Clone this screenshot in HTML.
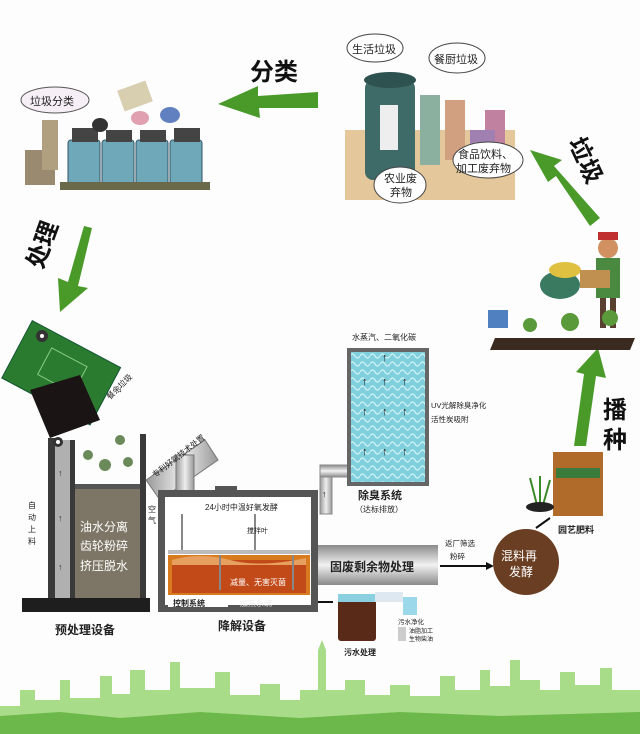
<!DOCTYPE html>
<html><head><meta charset="utf-8"><style>
html,body{margin:0;padding:0;background:#fff}
svg{display:block}
text{font-family:"Liberation Sans","Noto Sans CJK SC",sans-serif}
</style></head><body>
<svg width="640" height="734" viewBox="0 0 640 734" xmlns="http://www.w3.org/2000/svg">
<defs>
<pattern id="wave" width="10" height="8" patternUnits="userSpaceOnUse">
<rect width="10" height="8" fill="#7fd0dc"/>
<path d="M0 4 Q2.5 0 5 4 T10 4" stroke="#c8eef2" stroke-width="1.5" fill="none"/>
</pattern>
<linearGradient id="pipe" x1="0" y1="0" x2="0" y2="1">
<stop offset="0" stop-color="#8a8a8a"/><stop offset="0.5" stop-color="#f2f2f2"/><stop offset="1" stop-color="#8a8a8a"/>
</linearGradient>
<linearGradient id="pipeV" x1="0" y1="0" x2="1" y2="0">
<stop offset="0" stop-color="#999"/><stop offset="0.5" stop-color="#eee"/><stop offset="1" stop-color="#999"/>
</linearGradient>
</defs>
<rect width="640" height="734" fill="#fdfdfd"/>

<!-- green arrows -->
<polygon points="318,92 258,96 258,86 218,104 260,118 259,108 318,108" fill="#4a9a2a"/>
<polygon points="84,226 92,228 78,286 88,288 60,312 58,278 68,282" fill="#4a9a2a"/>
<polygon points="600,218 590,226 556,176 548,182 530,150 562,160 554,166" fill="#4a9a2a"/>
<polygon points="574,446 586,446 596,376 606,378 598,348 576,372 584,374" fill="#4a9a2a"/>

<text x="250" y="80" font-size="24" font-weight="bold" fill="#111">分类</text>
<text transform="translate(42,270) rotate(-70)" font-size="24" font-weight="bold" fill="#111">处理</text>
<text transform="translate(568,142) rotate(65)" font-size="24" font-weight="bold" fill="#111">垃圾</text>
<text x="603" y="418" font-size="24" font-weight="bold" fill="#111">播</text>
<text x="603" y="448" font-size="24" font-weight="bold" fill="#111">种</text>

<!-- top-left sorting illustration -->
<ellipse cx="55" cy="100" rx="34" ry="13" fill="#f6f0f6" stroke="#555"/>
<text x="30" y="105" font-size="11" fill="#222">垃圾分类</text>
<rect x="25" y="150" width="30" height="35" fill="#9a8a70"/>
<rect x="42" y="120" width="16" height="50" fill="#b0a080"/>
<g fill="#6fa8b8" stroke="#356"><rect x="68" y="140" width="32" height="45" rx="3"/><rect x="102" y="140" width="32" height="45" rx="3"/><rect x="136" y="140" width="32" height="45" rx="3"/><rect x="170" y="140" width="32" height="45" rx="3"/></g>
<g fill="#444"><rect x="72" y="128" width="26" height="14"/><rect x="106" y="130" width="26" height="12"/><rect x="140" y="130" width="26" height="12"/><rect x="174" y="128" width="26" height="14"/></g>
<rect x="60" y="182" width="150" height="8" fill="#6a6a4a"/>
<ellipse cx="100" cy="125" rx="8" ry="7" fill="#333"/><ellipse cx="140" cy="118" rx="9" ry="7" fill="#e0a0b0"/><ellipse cx="170" cy="115" rx="10" ry="8" fill="#6080c0"/>
<rect x="120" y="85" width="30" height="22" fill="#d8cfb0" transform="rotate(-20 135 96)"/>

<!-- top-right garbage illustration -->
<rect x="345" y="130" width="170" height="70" fill="#d8b070" opacity="0.7"/>
<rect x="420" y="95" width="20" height="70" fill="#8cb0a0"/><rect x="445" y="100" width="20" height="60" fill="#d0a080"/><rect x="485" y="110" width="20" height="55" fill="#c080a0"/>
<rect x="470" y="130" width="25" height="35" fill="#a080b0"/>
<rect x="365" y="80" width="50" height="100" rx="8" fill="#3e6a68"/>
<ellipse cx="390" cy="80" rx="26" ry="8" fill="#2e5250"/>
<rect x="380" y="105" width="18" height="45" fill="#eee"/>
<ellipse cx="375" cy="48" rx="28" ry="14" fill="#fff" stroke="#444"/>
<text x="352" y="53" font-size="11" fill="#222">生活垃圾</text>
<ellipse cx="457" cy="58" rx="28" ry="15" fill="#fff" stroke="#444"/>
<text x="434" y="63" font-size="11" fill="#222">餐厨垃圾</text>
<ellipse cx="400" cy="185" rx="26" ry="18" fill="#fff" stroke="#444"/>
<text x="384" y="182" font-size="11" fill="#222">农业废</text><text x="390" y="196" font-size="11" fill="#222">弃物</text>
<ellipse cx="488" cy="160" rx="35" ry="18" fill="#fff" stroke="#444"/>
<text x="458" y="158" font-size="11" fill="#222">食品饮料、</text><text x="456" y="172" font-size="11" fill="#222">加工废弃物</text>

<!-- farmer -->
<rect x="596" y="258" width="24" height="40" fill="#4a8a40"/>
<rect x="600" y="298" width="6" height="30" fill="#5a4030"/><rect x="610" y="298" width="6" height="30" fill="#5a4030"/>
<circle cx="608" cy="248" r="10" fill="#d09060"/><rect x="598" y="232" width="20" height="8" fill="#c03030"/>
<ellipse cx="560" cy="285" rx="20" ry="14" fill="#3a7a60"/><ellipse cx="565" cy="270" rx="16" ry="8" fill="#e0c040"/>
<rect x="580" y="270" width="30" height="18" fill="#c09050"/>
<polygon points="495,338 635,338 630,350 490,350" fill="#3a2a20"/>
<g fill="#5a9a3a"><circle cx="500" cy="320" r="8"/><circle cx="530" cy="325" r="7"/><circle cx="570" cy="322" r="9"/><circle cx="610" cy="318" r="8"/></g>
<rect x="488" y="310" width="20" height="18" fill="#5080c0"/>

<!-- green bin -->
<g transform="rotate(28 60 375)">
<rect x="10" y="340" width="100" height="65" fill="#2a7a30" stroke="#153"/>
<rect x="40" y="355" width="40" height="30" fill="none" stroke="#8c8"/>
</g>
<polygon points="30,390 80,375 100,420 50,438" fill="#1a1414"/>
<circle cx="42" cy="336" r="6" fill="#333"/><circle cx="42" cy="336" r="2" fill="#fff"/>
<text x="118" y="392" font-size="9" fill="#222">↓</text>
<text transform="translate(110,400) rotate(-45)" font-size="8" fill="#222">餐余垃圾</text>

<!-- pretreatment -->
<rect x="48" y="438" width="7" height="168" fill="#3a3a3a"/>
<rect x="55" y="440" width="15" height="164" fill="#b0b0b0"/>
<rect x="70" y="440" width="5" height="164" fill="#3a3a3a"/>
<rect x="140" y="434" width="6" height="172" fill="#3a3a3a"/>
<rect x="75" y="484" width="65" height="120" fill="#7d7565"/>
<rect x="75" y="484" width="65" height="5" fill="#555"/>
<circle cx="58" cy="442" r="5" fill="#333"/><circle cx="58" cy="442" r="2" fill="#fff"/>
<g fill="#333" font-size="9"><text x="58" y="476">↑</text><text x="58" y="521">↑</text><text x="58" y="570">↑</text></g>
<text x="80" y="531" font-size="12" fill="#fff">油水分离</text>
<text x="80" y="550" font-size="12" fill="#fff">齿轮粉碎</text>
<text x="80" y="570" font-size="12" fill="#fff">挤压脱水</text>
<g font-size="8" fill="#222"><text x="28" y="508">自</text><text x="28" y="520">动</text><text x="28" y="532">上</text><text x="28" y="544">料</text></g>
<g fill="#6a8a5a"><circle cx="88" cy="455" r="5"/><circle cx="105" cy="465" r="6"/><circle cx="120" cy="440" r="5"/><circle cx="128" cy="462" r="5"/></g>
<rect x="22" y="598" width="128" height="14" fill="#1e1e1e"/>
<text x="55" y="634" font-size="12" font-weight="bold" fill="#222">预处理设备</text>

<!-- slanted pipe -->
<polygon points="146,480 205,440 218,460 160,500" fill="url(#pipeV)" stroke="#777"/>
<rect x="176" y="455" width="18" height="40" fill="url(#pipeV)" stroke="#777"/>
<text transform="translate(155,478) rotate(-38)" font-size="8" fill="#222">专利好氧技术处置</text>

<!-- degradation -->
<rect x="158" y="490" width="160" height="122" fill="#555"/>
<rect x="165" y="497" width="146" height="108" fill="#fff"/>
<rect x="215" y="486" width="22" height="6" fill="#555"/>
<text x="205" y="510" font-size="8" fill="#222">24小时中温好氧发酵</text>
<text x="148" y="512" font-size="8" fill="#222">空</text><text x="148" y="523" font-size="8" fill="#222">气</text>
<rect x="168" y="550" width="142" height="4" fill="#bbb"/>
<rect x="168" y="555" width="142" height="40" fill="#d87a1e"/>
<rect x="172" y="560" width="134" height="33" fill="#c24a18"/>
<path d="M172 560 Q200 552 230 560 T306 558 L306 565 L172 565Z" fill="#e8a060"/>
<g stroke="#888" stroke-width="2"><line x1="182" y1="514" x2="182" y2="550"/><line x1="255" y1="514" x2="255" y2="550"/><line x1="220" y1="555" x2="220" y2="590"/><line x1="293" y1="555" x2="293" y2="590"/></g>
<text x="247" y="533" font-size="7" fill="#222">搅拌叶</text>
<text x="230" y="585" font-size="8" fill="#fff">减量、无害灭菌</text>
<rect x="168" y="597" width="60" height="10" fill="#fff"/>
<text x="173" y="606" font-size="8" font-weight="bold" fill="#222">控制系统</text>
<text x="240" y="606" font-size="8" fill="#eee">加热系统</text>
<text x="218" y="630" font-size="12" font-weight="bold" fill="#222">降解设备</text>

<!-- pipe to deodor -->
<rect x="320" y="472" width="12" height="42" fill="url(#pipeV)" stroke="#888"/>
<rect x="320" y="465" width="32" height="12" fill="url(#pipe)" stroke="#888"/>
<text x="322" y="497" font-size="9" fill="#222">↑</text>

<!-- deodor tower -->
<rect x="347" y="348" width="82" height="138" fill="#666"/>
<rect x="351" y="352" width="74" height="130" fill="url(#wave)"/>
<g fill="#111" font-size="11" font-weight="bold">
<text x="382" y="361">↑</text>
<text x="362" y="385">↑</text><text x="382" y="385">↑</text><text x="402" y="385">↑</text>
<text x="362" y="415">↑</text><text x="382" y="415">↑</text><text x="402" y="415">↑</text>
<text x="362" y="455">↑</text><text x="382" y="455">↑</text><text x="402" y="455">↑</text>
</g>
<text x="352" y="340" font-size="8" fill="#222">水蒸汽、二氧化碳</text>
<text x="431" y="408" font-size="7.5" fill="#222">UV光解除臭净化</text>
<text x="431" y="422" font-size="7.5" fill="#222">活性炭吸附</text>
<text x="358" y="499" font-size="11" font-weight="bold" fill="#222">除臭系统</text>
<text x="355" y="512" font-size="8" fill="#222">（达标排放）</text>

<!-- solid waste -->
<rect x="318" y="545" width="120" height="40" fill="url(#pipe)"/>
<text x="330" y="571" font-size="12" font-weight="bold" fill="#222">固废剩余物处理</text>
<text x="445" y="546" font-size="7.5" fill="#222">返厂筛选</text>
<text x="450" y="559" font-size="7.5" fill="#222">粉碎</text>
<line x1="440" y1="566" x2="486" y2="566" stroke="#111" stroke-width="2"/>
<polygon points="486,562 494,566 486,570" fill="#111"/>
<circle cx="526" cy="562" r="33" fill="#6a3e22"/>
<text x="501" y="560" font-size="12" fill="#fff">混料再</text>
<text x="509" y="576" font-size="12" fill="#fff">发酵</text>
<line x1="536" y1="528" x2="550" y2="518" stroke="#111" stroke-width="2"/>

<!-- fertilizer -->
<rect x="553" y="452" width="50" height="64" fill="#b06a2a"/>
<rect x="556" y="468" width="44" height="10" fill="#3a7a3a"/>
<g stroke="#3a8a2a" stroke-width="2"><line x1="537" y1="505" x2="530" y2="478"/><line x1="540" y1="505" x2="540" y2="476"/><line x1="543" y1="505" x2="550" y2="480"/></g>
<ellipse cx="540" cy="507" rx="14" ry="5" fill="#222"/>
<text x="558" y="533" font-size="9" font-weight="bold" fill="#222">园艺肥料</text>

<!-- wastewater -->
<line x1="318" y1="602" x2="333" y2="602" stroke="#111" stroke-width="2"/>
<rect x="338" y="596" width="38" height="45" rx="3" fill="#5a2a18"/>
<rect x="338" y="594" width="38" height="8" fill="#8ad0e0"/>
<rect x="375" y="592" width="28" height="10" fill="#dde8f0"/>
<rect x="403" y="597" width="14" height="18" fill="#9ad8ea"/>
<text x="398" y="624" font-size="6.5" fill="#222">污水净化</text>
<rect x="398" y="627" width="8" height="14" fill="#ccc"/>
<text x="409" y="633" font-size="6" fill="#222">油脂加工</text>
<text x="409" y="641" font-size="6" fill="#222">生物柴油</text>
<text x="344" y="655" font-size="8" font-weight="bold" fill="#222">污水处理</text>

<!-- skyline -->
<path d="M0 734 L0 706 L20 706 L20 690 L35 690 L35 700 L60 700 L60 680 L70 680 L70 698 L100 698 L100 676 L112 676 L112 694 L130 694 L130 670 L145 670 L145 690 L170 690 L170 662 L180 662 L180 688 L215 688 L215 672 L230 672 L230 695 L260 695 L260 684 L280 684 L280 700 L300 700 L300 690 L318 690 L318 650 L322 640 L326 650 L326 690 L345 690 L345 680 L365 680 L365 695 L390 695 L390 685 L410 685 L410 696 L440 696 L440 676 L455 676 L455 690 L480 690 L480 670 L490 670 L490 686 L510 686 L510 660 L520 660 L520 680 L540 680 L540 690 L560 690 L560 672 L575 672 L575 685 L600 685 L600 668 L612 668 L612 690 L640 690 L640 734Z" fill="#a8dc88"/>
<path d="M0 734 L0 716 L60 712 L120 718 L200 712 L300 718 L400 712 L500 716 L640 712 L640 734Z" fill="#6cb84a"/>
</svg>
</body></html>
